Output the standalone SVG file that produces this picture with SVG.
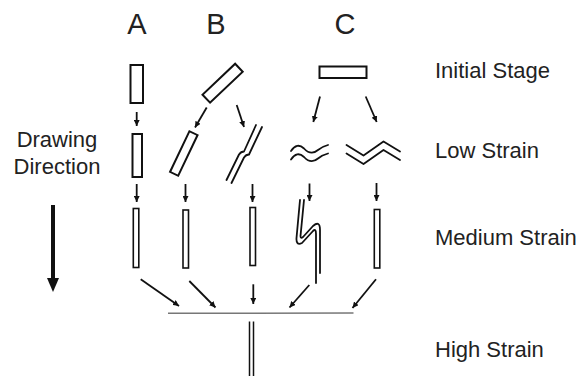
<svg xmlns="http://www.w3.org/2000/svg" width="582" height="376" viewBox="0 0 582 376">
<defs>
<marker id="ah" viewBox="0 0 10 10" refX="10" refY="5" markerWidth="6" markerHeight="6" markerUnits="userSpaceOnUse" orient="auto">
<path d="M0,0 L10,5 L0,10 z" fill="#111"/>
</marker>
<style>
.t{font-family:"Liberation Sans",Arial,sans-serif;fill:#222}
.h{font-size:29px;text-anchor:middle}
.l{font-size:22px}
.d{font-size:22px;text-anchor:middle}
.s{fill:none;stroke:#111;stroke-width:2}
.m{fill:none;stroke:#111;stroke-width:1.6}
.w{fill:none;stroke:#111;stroke-width:1.8;stroke-linecap:round;stroke-linejoin:round}
.a{stroke:#111;stroke-width:1.8;fill:none;marker-end:url(#ah)}
</style>
</defs>
<rect width="582" height="376" fill="#fff"/>

<g id="headers">
<text class="t h" x="137" y="34">A</text>
<text class="t h" x="216" y="34">B</text>
<text class="t h" x="345" y="34">C</text>
</g>

<g id="stage-labels">
<text class="t l" x="435" y="78">Initial Stage</text>
<text class="t l" x="435" y="158">Low Strain</text>
<text class="t l" x="435" y="245">Medium Strain</text>
<text class="t l" x="435" y="357">High Strain</text>
</g>

<g id="drawing-direction">
<text class="t d" x="57" y="147">Drawing</text>
<text class="t d" x="57" y="174">Direction</text>
<line x1="53" y1="205" x2="53" y2="280" stroke="#111" stroke-width="4"/>
<polygon points="47,278 59,278 53,292" fill="#111"/>
</g>

<g id="A-initial"><rect class="s" x="130.5" y="65" width="12.5" height="38"/></g>
<g id="A-low"><rect class="s" x="132.5" y="134" width="9.5" height="43"/></g>
<g id="A-medium"><rect class="m" x="133.3" y="208.5" width="5.5" height="59"/></g>

<g id="B-initial"><rect class="s" x="-22.5" y="-5.5" width="45" height="11" transform="translate(222.6,83.2) rotate(-43.5)"/></g>
<g id="B-low-left"><rect class="s" x="-4.5" y="-22.5" width="9" height="45" transform="translate(183.8,153.5) rotate(25.5)"/></g>
<g id="B-low-right">
<path class="w" d="M226.5,180 L239,154.5 Q241,151.5 244,151.5 L256,125"/>
<path class="w" d="M231.5,183 L244,157.5 Q246,154.5 249,154.5 L262,127"/>
</g>
<g id="B-medium-left"><rect class="m" x="183" y="210" width="5.5" height="58"/></g>
<g id="B-medium-right"><rect class="m" x="250" y="207.5" width="5.5" height="58"/></g>

<g id="C-initial"><rect class="s" x="319.5" y="66.5" width="47" height="11.5"/></g>
<g id="C-low-left">
<path class="w" d="M291,151 Q297,142 304,148.5 Q311,156 318,150 Q322,146.5 328,145"/>
<path class="w" d="M291,159.5 Q297,150.5 304,157 Q311,164.5 318,158.5 Q322,155 328,153.5"/>
</g>
<g id="C-low-right">
<path class="w" d="M346.5,145 L363.5,155.5 L383.5,141.5 L400,151.5"/>
<path class="w" d="M346.5,153.5 L363.5,164 L383.5,150 L400,160"/>
</g>
<g id="C-medium-left">
<path class="w" d="M300,200 L296.5,238 Q296,246 302,243 L313,231 Q316,228 316,234 L316,283"/>
<path class="w" d="M304,200 L300.5,236 Q300.5,239 303,237 L313,226 Q320,220 320,230 L320,273"/>
</g>
<g id="C-medium-right"><rect class="m" x="374.3" y="209.5" width="5.5" height="58.5"/></g>

<g id="high-strain">
<line x1="168" y1="313.3" x2="353.5" y2="313" stroke="#777" stroke-width="1.5"/>
<line x1="249.5" y1="321.5" x2="249.5" y2="376" stroke="#111" stroke-width="1.5"/>
<line x1="253.5" y1="321.5" x2="253.5" y2="376" stroke="#111" stroke-width="1.5"/>
</g>

<g id="connectors">
<line class="a" x1="136.7" y1="112" x2="136.7" y2="126"/>
<line class="a" x1="136.7" y1="184" x2="136.7" y2="202"/>
<line class="a" x1="206.7" y1="107.5" x2="195" y2="127.5"/>
<line class="a" x1="236.7" y1="105" x2="244" y2="127"/>
<line class="a" x1="185.5" y1="184" x2="185.5" y2="202"/>
<line class="a" x1="252.5" y1="184" x2="252.5" y2="202"/>
<line class="a" x1="320" y1="96.5" x2="313.3" y2="122"/>
<line class="a" x1="365.7" y1="96.5" x2="376.7" y2="122"/>
<line class="a" x1="309.5" y1="183.5" x2="309.5" y2="201"/>
<line class="a" x1="376.5" y1="183" x2="376.5" y2="201"/>
<line class="a" x1="140.7" y1="279.3" x2="179" y2="306"/>
<line class="a" x1="189.3" y1="281" x2="215.5" y2="307.5"/>
<line class="a" x1="253.3" y1="284.3" x2="253.3" y2="304"/>
<line class="a" x1="309.3" y1="285" x2="289.5" y2="307.5"/>
<line class="a" x1="376" y1="279.3" x2="352.5" y2="308"/>
</g>
</svg>
